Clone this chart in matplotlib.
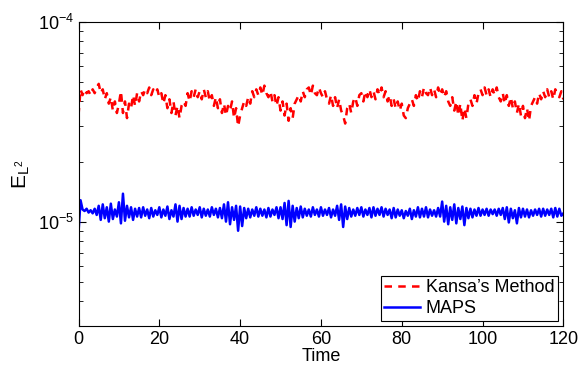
import numpy as np
import matplotlib
matplotlib.use('Agg')
import matplotlib.pyplot as plt

plt.rcParams['font.family'] = ['Liberation Sans', 'DejaVu Sans']
plt.rcParams['mathtext.default'] = 'regular'

# sample times, step 0.5
time = np.arange(0, 120.5, 0.5)

# error values in units of 1e-5
kansa = [
    3.4, 4.6, 4.3, 4.6, 4.4, 4.5, 4.3, 4.6, 4.4, 4.7,
    4.9, 4.4, 4.6, 4.1, 4.4, 3.9, 4.2, 3.6, 4.0, 3.5,
    3.9, 4.5, 3.5, 4.0, 3.3, 3.9, 3.7, 4.3, 3.8, 4.4,
    4.0, 4.5, 4.3, 4.6, 4.4, 4.7, 4.3, 4.6, 4.4, 4.6,
    4.2, 4.4, 3.9, 4.3, 3.7, 4.1, 3.5, 4.0, 3.4, 3.8,
    3.3, 3.8, 4.0, 3.8, 4.4, 4.0, 4.5, 4.2, 4.6, 4.2,
    4.5, 4.1, 4.6, 4.2, 4.5, 4.0, 4.3, 3.8, 4.2, 3.7,
    4.1, 3.5, 3.9, 3.4, 3.8, 3.6, 4.0, 3.3, 3.7, 3.0,
    3.4, 3.7, 4.0, 3.8, 4.2, 3.9, 4.5, 4.2, 4.6, 4.3,
    4.7, 4.3, 4.8, 4.4, 4.2, 4.5, 4.0, 4.3, 3.8, 4.2,
    3.6, 4.0, 3.4, 3.9, 3.2, 3.7, 3.3, 3.9, 4.1, 4.3,
    4.0, 4.5, 4.2, 4.6, 4.7, 4.3, 4.8, 4.4, 4.3, 4.7,
    4.4, 4.2, 4.5, 4.1, 3.9, 4.3, 3.8, 4.2, 3.7, 4.1,
    3.6, 3.4, 3.1, 3.7, 3.9, 3.5, 4.0, 4.2, 3.8, 4.3,
    4.4, 4.0, 4.5, 4.2, 4.6, 4.2, 4.5, 4.1, 4.6, 4.3,
    4.7, 4.2, 4.5, 4.0, 4.3, 3.8, 4.1, 3.7, 4.0, 3.6,
    3.9, 3.4, 3.3, 3.7, 3.9, 4.1, 3.8, 4.3, 4.0, 4.5,
    4.2, 4.7, 4.4, 4.3, 4.7, 4.3, 4.6, 4.2, 4.7, 4.3,
    4.6, 4.2, 4.5, 4.0, 3.8, 4.2, 3.6, 4.0, 3.4, 3.9,
    3.2, 3.7, 3.3, 3.9, 4.1, 3.8, 4.3, 3.9, 4.4, 4.6,
    4.3, 4.7, 4.3, 4.6, 4.2, 4.6, 4.3, 4.7, 4.2, 4.0,
    4.4, 3.9, 4.3, 3.8, 4.2, 3.7, 4.0, 3.5, 3.9, 3.4,
    3.8, 3.3, 3.7, 3.2, 3.8, 4.0, 4.2, 3.9, 4.4, 4.1,
    4.5, 4.2, 4.6, 4.2, 4.5, 4.1, 4.6, 4.3, 4.2, 4.5,
    4.1,
]

maps = [
    0.88, 1.28, 1.15, 1.13, 1.16, 1.11, 1.14, 1.10, 1.16, 1.08,
    1.20, 1.02, 1.22, 1.04, 1.18, 1.00, 1.23, 1.03, 1.15, 1.06,
    1.25, 0.98, 1.38, 1.01, 1.20, 1.05, 1.18, 1.02, 1.16, 1.06,
    1.17, 1.05, 1.18, 1.07, 1.15, 1.04, 1.17, 1.06, 1.14, 1.08,
    1.18, 1.05, 1.15, 1.07, 1.19, 1.03, 1.14, 1.06, 1.22, 1.00,
    1.20, 1.03, 1.17, 1.06, 1.16, 1.06, 1.18, 1.07, 1.15, 1.08,
    1.18, 1.05, 1.16, 1.07, 1.15, 1.06, 1.18, 1.08, 1.16, 1.05,
    1.17, 1.04, 1.22, 1.00, 1.25, 0.97, 1.18, 1.02, 1.20, 0.90,
    1.19, 0.95, 1.17, 1.04, 1.16, 1.05, 1.15, 1.07, 1.18, 1.06,
    1.16, 1.07, 1.15, 1.05, 1.17, 1.06, 1.15, 1.08, 1.18, 1.04,
    1.18, 1.03, 1.24, 0.96, 1.27, 0.94, 1.20, 1.00, 1.17, 1.04,
    1.19, 1.05, 1.16, 1.07, 1.15, 1.06, 1.18, 1.08, 1.15, 1.06,
    1.18, 1.07, 1.15, 1.08, 1.17, 1.05, 1.15, 1.07, 1.20, 1.02,
    1.22, 0.94, 1.19, 1.03, 1.17, 1.06, 1.15, 1.07, 1.17, 1.08,
    1.18, 1.06, 1.15, 1.08, 1.17, 1.05, 1.18, 1.07, 1.16, 1.08,
    1.18, 1.06, 1.16, 1.08, 1.15, 1.04, 1.17, 1.05, 1.15, 1.07,
    1.14, 1.04, 1.13, 1.07, 1.16, 1.03, 1.14, 1.06, 1.18, 1.05,
    1.16, 1.06, 1.18, 1.05, 1.15, 1.07, 1.14, 1.06, 1.17, 1.06,
    1.26, 1.00, 1.20, 0.97, 1.18, 1.02, 1.22, 0.98, 1.17, 1.03,
    1.19, 0.96, 1.17, 1.04, 1.16, 1.05, 1.15, 1.07, 1.17, 1.07,
    1.15, 1.08, 1.16, 1.07, 1.15, 1.09, 1.15, 1.07, 1.16, 1.08,
    1.17, 1.03, 1.18, 0.99, 1.16, 1.04, 1.14, 0.98, 1.17, 1.05,
    1.16, 1.06, 1.15, 1.05, 1.14, 1.07, 1.15, 1.08, 1.16, 1.06,
    1.16, 1.07, 1.15, 1.08, 1.16, 1.05, 1.17, 1.06, 1.16, 1.07,
    1.10,
]

xticks = [0, 20, 40, 60, 80, 100, 120]

fig = plt.figure(figsize=(5.79, 3.70), dpi=100)
ax = fig.add_axes([0.1356, 0.119, 0.8374, 0.8215])

ax.semilogy(time, np.array(kansa) * 1e-5, color='red', lw=1.8,
            linestyle=(0, (3, 2.5)), label="Kansa’s Method")
ax.semilogy(time, np.array(maps) * 1e-5, color='blue', lw=1.8, label='MAPS')

ax.set_xlim(0, 120)
ax.set_ylim(3e-6, 1e-4)
ax.set_xticks(xticks)
ax.tick_params(which='both', direction='in', top=True, right=True, labelsize=13)
ax.tick_params(which='major', length=5)
ax.tick_params(which='minor', length=3)
ax.set_xlabel('Time', fontsize=13, labelpad=0)
ax.set_ylabel(r'$E_{L^2}$', fontsize=15, labelpad=4)

leg = ax.legend(loc='lower right', fontsize=13, frameon=True, fancybox=False,
                edgecolor='black', framealpha=1, borderaxespad=0.3,
                handlelength=2.0, handletextpad=0.3, borderpad=0.2,
                labelspacing=0.2)
leg.get_frame().set_linewidth(0.8)

fig.savefig('out.png', dpi=100)
